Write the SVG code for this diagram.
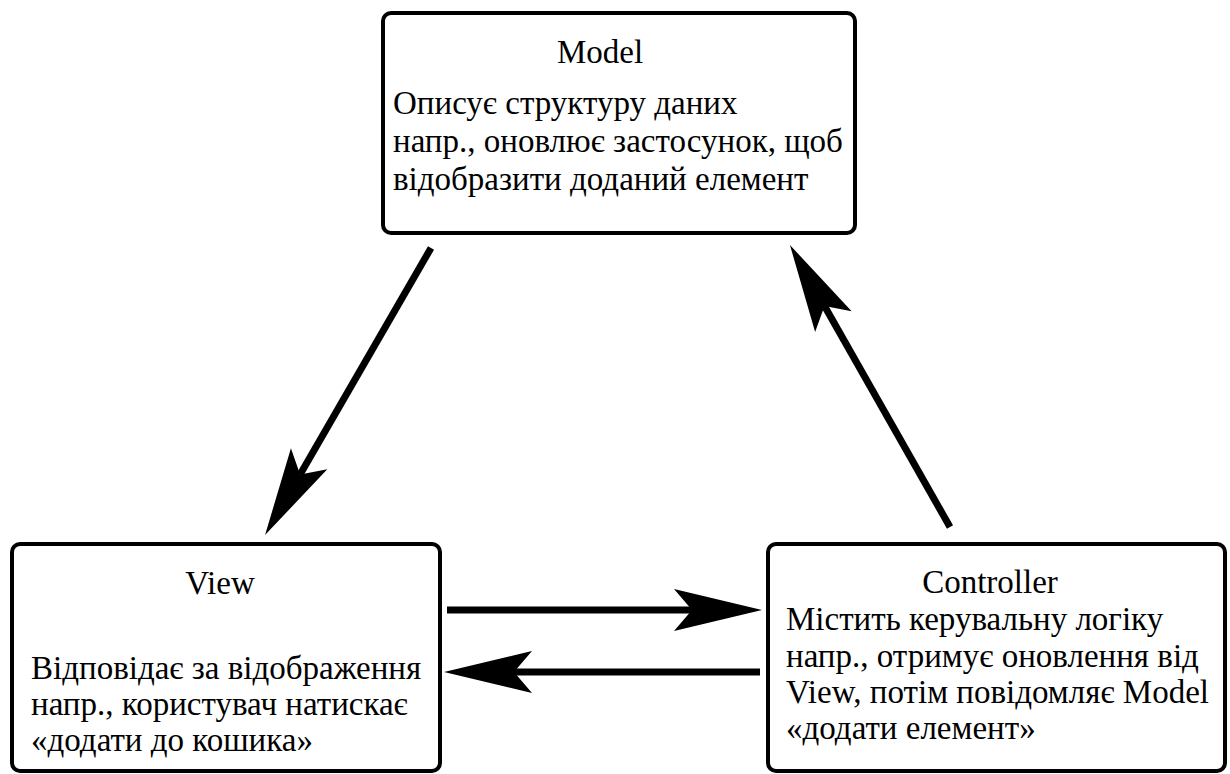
<svg xmlns="http://www.w3.org/2000/svg" width="1230" height="774" viewBox="0 0 1230 774">
<style>
.box{fill:#fff;stroke:#000;stroke-width:4}
.t{font-family:"Liberation Serif","Times New Roman",serif;font-size:33px;fill:#000}
.c{text-anchor:middle}
.con{stroke:#000;stroke-width:7;fill:none}
</style>
<defs>
<marker id="ah" markerUnits="userSpaceOnUse" viewBox="-20 -22 92 44" refX="0" refY="0" markerWidth="92" markerHeight="44" orient="auto" overflow="visible">
<path d="M70,0 L-18,-21 L0,0 L-18,21 Z" fill="#000"/>
</marker>
</defs>
<rect width="1230" height="774" fill="#fff"/>
<g id="model">
<rect class="box" x="383" y="13" width="472" height="220" rx="8"/>
<text class="t c" x="600" y="63">Model</text>
<text class="t" x="393" y="114">Описує структуру даних</text>
<text class="t" x="393" y="152">напр., оновлює застосунок, щоб</text>
<text class="t" x="393" y="190">відобразити доданий елемент</text>
</g>
<g id="view">
<rect class="box" x="12" y="544" width="428" height="227" rx="8"/>
<text class="t c" x="220" y="594">View</text>
<text class="t" x="31" y="679">Відповідає за відображення</text>
<text class="t" x="31" y="715">напр., користувач натискає</text>
<text class="t" x="31" y="751">«додати до кошика»</text>
</g>
<g id="controller">
<rect class="box" x="768" y="544" width="457" height="227" rx="8"/>
<text class="t c" x="990" y="593">Controller</text>
<text class="t" x="786" y="630">Містить керувальну логіку</text>
<text class="t" x="786" y="667">напр., отримує оновлення від</text>
<text class="t" x="786" y="703">View, потім повідомляє Model</text>
<text class="t" x="786" y="739">«додати елемент»</text>
</g>
<g id="connectors">
<line class="con" x1="431" y1="248" x2="300.1" y2="474.4" marker-end="url(#ah)"/>
<line class="con" x1="950" y1="527" x2="824.5" y2="305.9" marker-end="url(#ah)"/>
<line class="con" x1="447" y1="610" x2="692" y2="610" marker-end="url(#ah)"/>
<line class="con" x1="760" y1="672" x2="514" y2="672" marker-end="url(#ah)"/>
</g>
</svg>
